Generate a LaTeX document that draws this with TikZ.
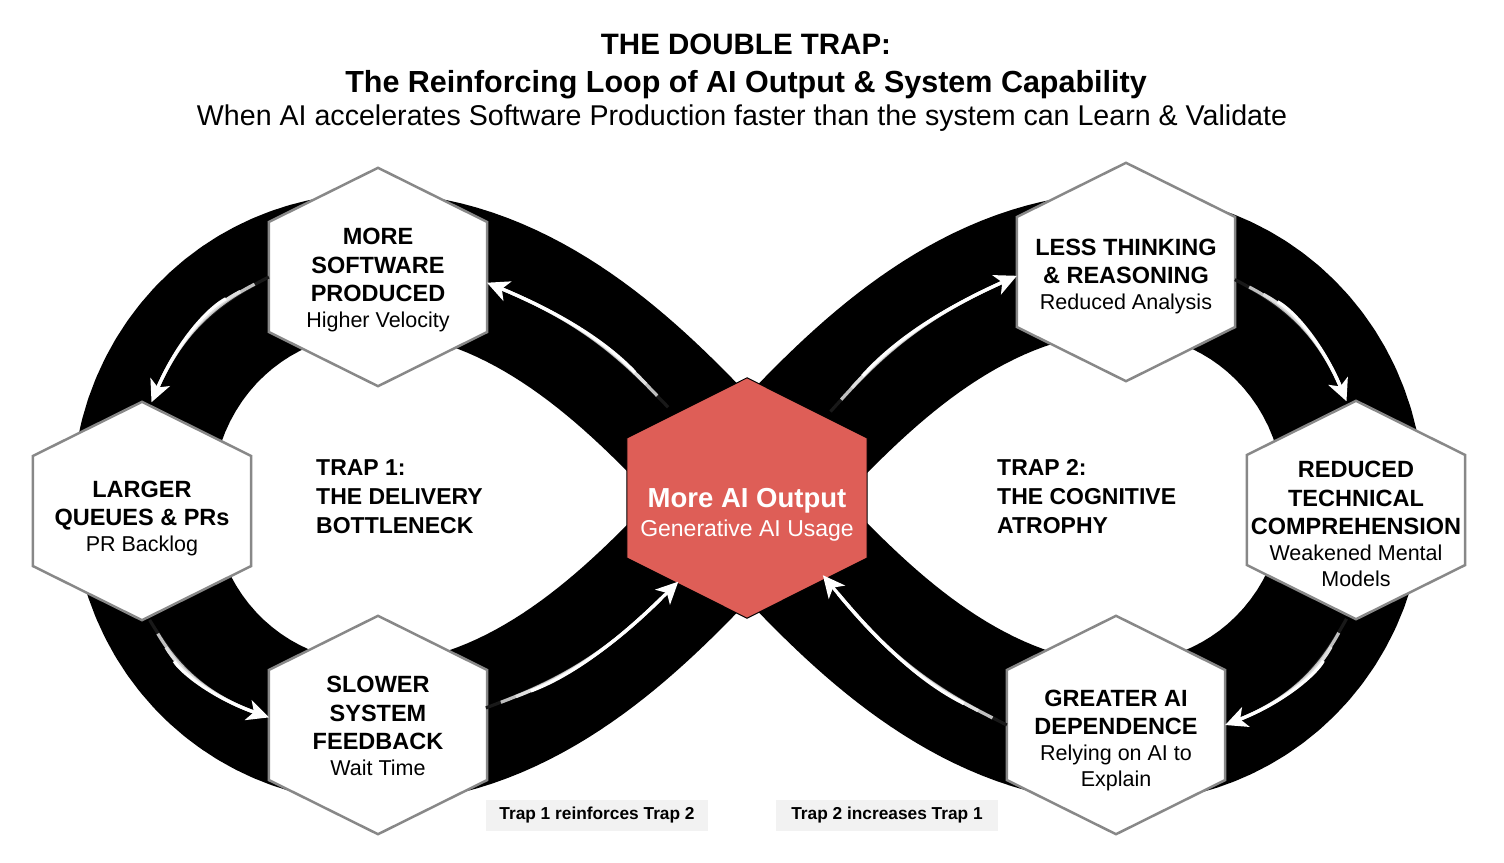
\documentclass[tikz,border=0pt]{standalone}
\usepackage{fontspec}
\setmainfont{Liberation Sans}
\usetikzlibrary{arrows.meta}
\pgfdeclarelayer{back}
\pgfsetlayers{back,main}
\definecolor{aired}{RGB}{222,94,87}
\definecolor{hexgray}{RGB}{136,136,136}
\definecolor{notegray}{RGB}{242,242,242}
\newcommand{\hexsub}[1]{{\fontsize{21.5}{26}\mdseries\selectfont #1}}
\newcommand{\textdrop}[1]{\rule{0pt}{#1pt}}

\tikzset{
	stage/.style={circle, minimum size=218pt, inner sep=-40pt, align=center, font=\fontsize{23.5}{28.5}\bfseries\selectfont},
	hexframe/.style={draw=hexgray, line width=2.5pt, fill=white},
	trap/.style={anchor=west, align=left, inner sep=0pt, font=\fontsize{23}{29}\bfseries\selectfont},
	note/.style={fill=notegray, minimum width=222pt, minimum height=31pt, inner sep=0pt, font=\fontsize{17.3}{20}\bfseries\selectfont},
	flow/.style={draw=white, line width=3.2pt, -{Stealth[length=22pt,width=21pt,inset=6pt]}, shorten <=48pt,
		preaction={draw=gray!20!black, line width=3.2pt, -, shorten <=0pt, shorten >=12pt},
		preaction={draw=gray!50, line width=3.2pt, -, shorten <=16pt, shorten >=12pt},
		preaction={draw=gray!25, line width=3.2pt, -, shorten <=32pt, shorten >=12pt}}
}

\begin{document}
\begin{tikzpicture}[x=1pt, y=1pt]
	\useasboundingbox (0,0) rectangle (1504,-862);

	\node[font=\fontsize{29.5}{34}\bfseries\selectfont, anchor=base] (title) at (746,-54) {THE DOUBLE TRAP:};
	\node[font=\fontsize{30.5}{34}\bfseries\selectfont, anchor=base] (subtitle) at (746,-92) {The Reinforcing Loop of AI Output \& System Capability};
	\node[font=\fontsize{28.6}{32}\selectfont, anchor=base] (tagline) at (742,-125) {When AI accelerates Software Production faster than the system can Learn \& Validate};

	\node[circle, minimum size=240pt, inner sep=-40pt, align=center, text=white, font=\fontsize{27.5}{30}\bfseries\selectfont] (ai) at (747,-498)
		{\textdrop{52}More AI Output\\[-1pt]{\fontsize{23}{26}\mdseries\selectfont Generative AI Usage}};

	\node[stage] (more) at (378,-277) {\textdrop{23}MORE\\SOFTWARE\\PRODUCED\\[-2.5pt]\hexsub{Higher Velocity}};
	\node[stage] (larger) at (142,-511) {\textdrop{31}LARGER\\QUEUES \& PRs\\[-2.5pt]\hexsub{PR Backlog}};
	\node[stage] (slower) at (378,-725) {\textdrop{19}SLOWER\\SYSTEM\\FEEDBACK\\[-2.5pt]\hexsub{Wait Time}};
	\node[stage] (less) at (1126,-272) {\textdrop{25}LESS THINKING\\\& REASONING\\[-2.5pt]\hexsub{Reduced Analysis}};
	\node[stage] (reduced) at (1356,-510) {\textdrop{45}REDUCED\\TECHNICAL\\COMPREHENSION\\[-2.5pt]\hexsub{Weakened Mental}\\[-2.5pt]\hexsub{Models}};
	\node[stage] (greater) at (1116,-725) {\textdrop{47}GREATER AI\\DEPENDENCE\\[-2.5pt]\hexsub{Relying on AI to}\\[-2.5pt]\hexsub{Explain}};

	\node[trap] (trapone) at (316,-497) {TRAP 1:\\THE DELIVERY\\BOTTLENECK};
	\node[trap] (traptwo) at (997,-497) {TRAP 2:\\THE COGNITIVE\\ATROPHY};

	\node[note] (noteone) at (597,-815) {Trap 1 reinforces Trap 2};
	\node[note] (notetwo) at (887,-815) {Trap 2 increases Trap 1};

	\begin{pgfonlayer}{back}
		\fill[white] (0,0) rectangle (1504,-862);
		\draw[black, line width=140pt, line join=round]
			plot[domain=0:360, samples=240] ({748+606*cos(\x)/(1+sin(\x)^2)}, {-498+665*sin(\x)*cos(\x)/(1+sin(\x)^2)});
		\foreach \s in {more,larger,slower,less,reduced,greater}
			\draw[hexframe] (\s.north) -- ([yshift=55pt]\s.east) -- ([yshift=-55pt]\s.east) -- (\s.south)
				-- ([yshift=-55pt]\s.west) -- ([yshift=55pt]\s.west) -- cycle;
		\draw[fill=aired, draw=black, line width=1pt] (ai.north) -- ([yshift=60pt]ai.east) -- ([yshift=-60pt]ai.east) -- (ai.south)
			-- ([yshift=-60pt]ai.west) -- ([yshift=60pt]ai.west) -- cycle;
	\end{pgfonlayer}

	\draw[flow] (ai.131) to[bend right=12] (more.357);
	\draw[flow] (more.west) to[bend right=20] (larger.85);
	\draw[flow] (larger.274) to[bend right=20] (slower.176);
	\draw[flow, shorten >=-12pt] (slower.9) to[bend right=12] (ai.230);
	\draw[flow] (ai.46) to[bend left=12] (less.182);
	\draw[flow] (less.356) to[bend left=20] (reduced.95);
	\draw[flow] (reduced.265) to[bend left=20] (greater.east);
	\draw[flow, shorten >=-12pt] (greater.west) to[bend left=12] (ai.314);
\end{tikzpicture}
\end{document}
